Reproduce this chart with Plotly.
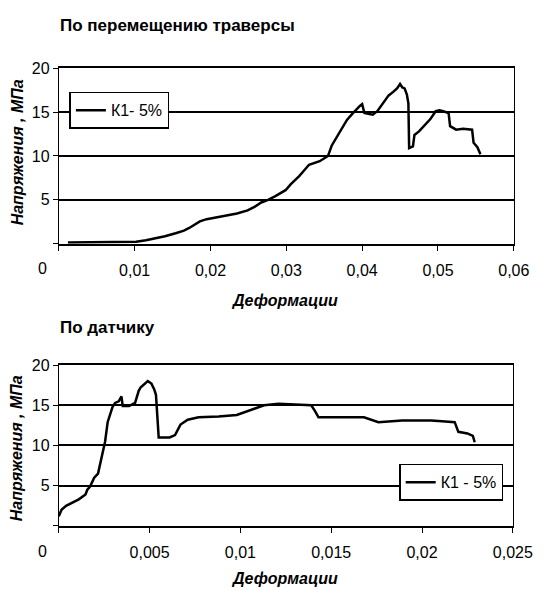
import plotly.graph_objects as go

# Top chart: "По перемещению траверсы"
strain_top = [0.0012, 0.004, 0.008, 0.0102, 0.0115, 0.0127, 0.014, 0.0154, 0.0165, 0.0172,
              0.0180, 0.0186, 0.0195, 0.0208, 0.022, 0.0235, 0.0249, 0.0258, 0.0267, 0.0276,
              0.0285, 0.0299, 0.0306, 0.0317, 0.0324, 0.033, 0.0344, 0.0350, 0.0355, 0.0360,
              0.0367, 0.0372, 0.0380, 0.0387, 0.0393, 0.0397, 0.0400, 0.0403, 0.0408, 0.0414,
              0.0420, 0.0428, 0.0435, 0.0441, 0.0446, 0.0450, 0.0453, 0.0456, 0.0459, 0.0461,
              0.0462, 0.0467, 0.0469, 0.0475, 0.0482, 0.0490, 0.0497, 0.0502, 0.0507, 0.0514,
              0.0516, 0.0520, 0.0524, 0.0533, 0.0540, 0.0545, 0.0547, 0.0552, 0.0556]
stress_top = [0.15, 0.18, 0.2, 0.23, 0.4, 0.58, 0.85, 1.2, 1.5, 1.8,
              2.2, 2.55, 2.8, 3.0, 3.2, 3.45, 3.8, 4.2, 4.7, 5.0,
              5.4, 6.1, 6.8, 7.7, 8.4, 9.0, 9.4, 9.7, 10.0, 11.2,
              12.2, 12.8, 14.1, 14.8, 15.4, 15.7, 15.9, 14.9, 14.8, 14.7,
              15.1, 16.0, 16.9, 17.3, 17.7, 18.2, 17.8, 17.7, 17.0, 16.0,
              10.9, 11.1, 12.4, 12.8, 13.4, 14.2, 15.1, 15.2, 15.1, 14.9,
              13.4, 13.2, 13.0, 13.1, 13.0, 13.0, 11.5, 11.0, 10.2]

# Bottom chart: "По датчику"
strain_bot = [0.0, 0.00015, 0.0004, 0.00072, 0.0011, 0.00147, 0.00157, 0.00172, 0.00195, 0.00216,
              0.0023, 0.00243, 0.00255, 0.00269, 0.00283, 0.00296, 0.0031, 0.0033, 0.00345, 0.00352,
              0.0037, 0.00387, 0.0042, 0.0044, 0.0045, 0.0047, 0.0049, 0.0051, 0.00525, 0.00535,
              0.0054, 0.0055, 0.0061, 0.0064, 0.0067, 0.0071, 0.0077, 0.0088, 0.0098, 0.0105,
              0.0113, 0.0121, 0.013, 0.0139, 0.0141, 0.0143, 0.0168, 0.0176, 0.0189, 0.0205,
              0.0211, 0.0218, 0.0220, 0.0225, 0.0228, 0.0229]
stress_bot = [1.2, 2.0, 2.5, 2.9, 3.3, 3.9, 4.5, 4.9, 6.0, 6.5,
              7.8, 9.3, 10.5, 12.9, 14.0, 14.8, 15.3, 15.5, 16.1, 14.9,
              14.9, 14.9, 15.3, 16.8, 17.2, 17.6, 18.0, 17.7, 17.0, 16.3,
              14.0, 11.0, 11.0, 11.3, 12.6, 13.2, 13.5, 13.6, 13.8, 14.4,
              15.0, 15.2, 15.1, 15.0, 14.3, 13.5, 13.5, 12.9, 13.1, 13.1,
              13.0, 12.9, 11.7, 11.5, 11.2, 10.4]

x_ticks_top = [0, 0.01, 0.02, 0.03, 0.04, 0.05, 0.06]
x_text_top = ["", "0,01", "0,02", "0,03", "0,04", "0,05", "0,06"]
x_ticks_bot = [0, 0.005, 0.01, 0.015, 0.02, 0.025]
x_text_bot = ["", "0,005", "0,01", "0,015", "0,02", "0,025"]
y_ticks = [0, 5, 10, 15, 20]
y_text = ["", "5", "10", "15", "20"]

FONT = "Liberation Sans, Arial, sans-serif"
W, H = 555, 590

def px(x):
    return x / W

def py(y):
    return 1 - y / H

fig = go.Figure()
fig.add_trace(go.Scatter(x=strain_top, y=stress_top, mode="lines", name="К1- 5%",
                         line=dict(color="black", width=2.5), xaxis="x", yaxis="y",
                         legend="legend"))
fig.add_trace(go.Scatter(x=strain_bot, y=stress_bot, mode="lines", name="К1 - 5%",
                         line=dict(color="black", width=2.5), xaxis="x2", yaxis="y2",
                         legend="legend2"))

xcommon = dict(showline=True, linecolor="black", linewidth=2, mirror=True,
               ticks="outside", ticklen=5, tickcolor="black", tickwidth=1,
               showgrid=False, zeroline=False, ticklabelstandoff=6,
               tickfont=dict(family=FONT, size=16, color="black"))
ycommon = dict(showline=True, linecolor="black", linewidth=1, mirror=True,
               ticks="outside", ticklen=5, tickcolor="black", tickwidth=1,
               showgrid=True, gridcolor="black", gridwidth=1.5, zeroline=False,
               range=[0, 20], tickvals=y_ticks, ticktext=y_text,
               tickfont=dict(family=FONT, size=16, color="black"))

fig.update_layout(
    width=W, height=H,
    margin=dict(l=0, r=0, t=0, b=0),
    paper_bgcolor="white", plot_bgcolor="white",
    font=dict(family=FONT, size=16, color="black"),
    xaxis=dict(domain=[px(61), px(533)], anchor="y", range=[0, 0.06],
               tickvals=x_ticks_top, ticktext=x_text_top, **xcommon),
    yaxis=dict(domain=[py(239), py(61)], anchor="x", **ycommon),
    xaxis2=dict(domain=[px(61), px(532)], anchor="y2", range=[0, 0.025],
                tickvals=x_ticks_bot, ticktext=x_text_bot, **xcommon),
    yaxis2=dict(domain=[py(525), py(362)], anchor="x2", **ycommon),
    legend=dict(x=px(72), y=py(85), xanchor="left", yanchor="top",
                bordercolor="black", borderwidth=1.5, bgcolor="white",
                font=dict(family=FONT, size=16, color="black")),
    legend2=dict(x=px(522), y=py(462), xanchor="right", yanchor="top",
                 bordercolor="black", borderwidth=1.5, bgcolor="white",
                 font=dict(family=FONT, size=16, color="black")),
    showlegend=True,
)

ann = [
    dict(text="<b>По перемещению траверсы</b>", x=px(60), y=py(18), xanchor="left", yanchor="middle",
         font=dict(size=17)),
    dict(text="<b>По датчику</b>", x=px(60), y=py(324), xanchor="left", yanchor="middle",
         font=dict(size=17)),
    dict(text="<b><i>Деформации</i></b>", x=px(295), y=py(297), xanchor="center", yanchor="middle",
         font=dict(size=16)),
    dict(text="<b><i>Деформации</i></b>", x=px(295), y=py(578), xanchor="center", yanchor="middle",
         font=dict(size=16)),
    dict(text="<b><i>Напряжения , МПа</i></b>", x=px(18), y=py(146), xanchor="center", yanchor="middle",
         textangle=-90, font=dict(size=16)),
    dict(text="<b><i>Напряжения , МПа</i></b>", x=px(18), y=py(446), xanchor="center", yanchor="middle",
         textangle=-90, font=dict(size=16)),
    dict(text="0", x=px(44), y=py(264), xanchor="center", yanchor="middle", font=dict(size=16)),
    dict(text="0", x=px(44), y=py(551), xanchor="center", yanchor="middle", font=dict(size=16)),
]
for a in ann:
    a.update(xref="paper", yref="paper", showarrow=False)
fig.update_layout(annotations=ann)

fig.write_html("out.html", config={"displayModeBar": False},
               post_script="document.body.style.margin='0';document.body.style.overflow='hidden';")
